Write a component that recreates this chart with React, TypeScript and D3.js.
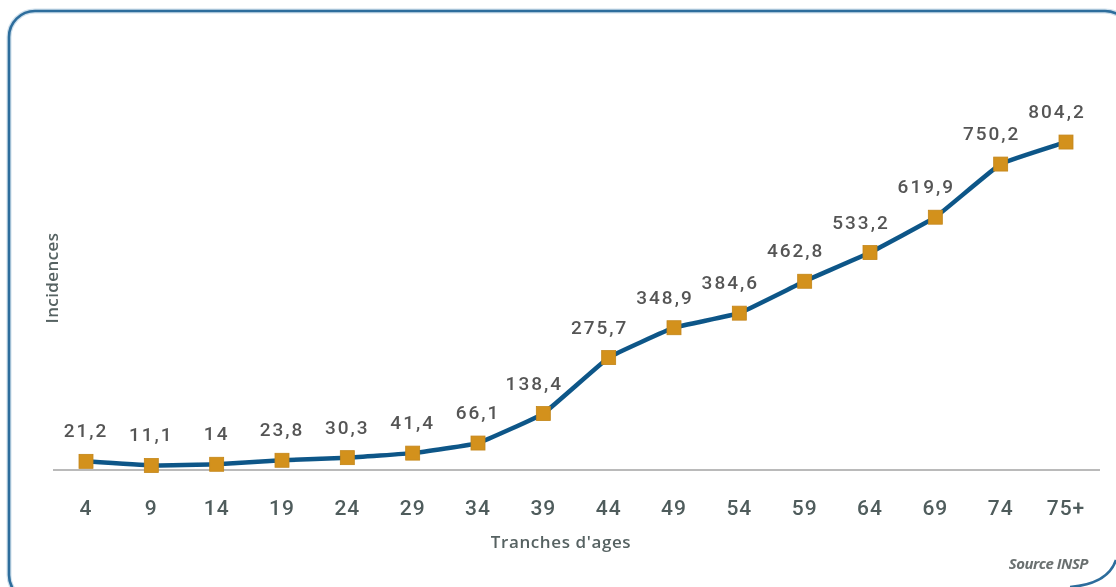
import React from "react";
import * as d3 from "d3";

// Age brackets and incidence per bracket
const ageBrackets: string[] = ["4", "9", "14", "19", "24", "29", "34", "39", "44", "49", "54", "59", "64", "69", "74", "75+"];
const incidences: number[] = [21.2, 11.1, 14, 23.8, 30.3, 41.4, 66.1, 138.4, 275.7, 348.9, 384.6, 462.8, 533.2, 619.9, 750.2, 804.2];
const valueLabels: string[] = ["21,2", "11,1", "14", "23,8", "30,3", "41,4", "66,1", "138,4", "275,7", "348,9", "384,6", "462,8", "533,2", "619,9", "750,2", "804,2"];

const W = 1116;
const H = 587;
const DIN = "Roboto, 'DejaVu Sans', sans-serif";

export default function App() {
  const x = d3
    .scalePoint<string>()
    .domain(ageBrackets)
    .range([86, 1066]);
  const y = d3.scaleLinear().domain([0, 1000]).range([470, 62.2]);

  const pts: [number, number][] = incidences.map((v, i) => [x(ageBrackets[i]) as number, y(v)]);
  const line = d3.line<[number, number]>().curve(d3.curveCardinal.tension(0.75))(pts) || "";

  const marker = 14;

  return (
    <svg
      width={W}
      height={H}
      viewBox={`0 0 ${W} ${H}`}
      style={{ position: "absolute", left: 0, top: 0, background: "#fff" }}
    >
      <defs>
        <filter id="soft" x="-5%" y="-5%" width="110%" height="110%">
          <feGaussianBlur stdDeviation="0.5" />
        </filter>
      </defs>

      {/* frame */}
      <rect x={9} y={11} width={1122} height={590} rx={26} ry={26} fill="none" stroke="#cfe0ec" strokeWidth={5} />
      <rect x={9} y={11} width={1122} height={590} rx={26} ry={26} fill="none" stroke="#2d6d9c" strokeWidth={2.6} />
      <path d="M 1070 587 Q 1108 584 1116 560" fill="none" stroke="#2d6d9c" strokeWidth={2.6} />

      <g filter="url(#soft)">
        {/* baseline */}
        <line x1={53} x2={1100} y1={y(0)} y2={y(0)} stroke="#a3a3a3" strokeWidth={1.6} />

        {/* x tick labels */}
        {ageBrackets.map((a) => (
          <text
            key={a}
            x={x(a)}
            y={515}
            textAnchor="middle"
            fontFamily={DIN}
            fontWeight={500}
            fontSize={21}
            letterSpacing={1}
            fill="#4f5c5c"
          >
            {a}
          </text>
        ))}

        {/* series line */}
        <path d={line} fill="none" stroke="#0d5688" strokeWidth={4.5} strokeLinejoin="round" />

        {/* markers */}
        {pts.map(([px, py], i) => (
          <rect
            key={i}
            x={px - marker / 2}
            y={py - marker / 2}
            width={marker}
            height={marker}
            fill="#d3911f"
            stroke="#c4861a"
            strokeWidth={0.8}
          />
        ))}

        {/* value labels */}
        {pts.map(([px, py], i) => (
          <text
            key={"v" + i}
            x={px - (i > 6 ? 9 : 0)}
            y={py - 24}
            textAnchor="middle"
            fontFamily={DIN}
            fontWeight={500}
            fontSize={19}
            letterSpacing={2}
            fill="#555"
          >
            {valueLabels[i]}
          </text>
        ))}

        {/* axis titles */}
        <text
          transform="translate(58,278) rotate(-90)"
          textAnchor="middle"
          fontFamily="'Open Sans', sans-serif"
          fontWeight={600}
          fontSize={17}
          letterSpacing={0.4}
          fill="#566262"
        >
          Incidences
        </text>
        <text
          x={561}
          y={548}
          textAnchor="middle"
          fontFamily="'Open Sans', sans-serif"
          fontWeight={600}
          fontSize={17}
          letterSpacing={0.6}
          fill="#566262"
        >
          Tranches d'ages
        </text>
        <text
          x={1088}
          y={569}
          textAnchor="end"
          fontFamily="'Open Sans', sans-serif"
          fontStyle="italic"
          fontWeight={700}
          fontSize={15}
          letterSpacing={-0.5}
          fill="#6a7070"
        >
          Source INSP
        </text>
      </g>
    </svg>
  );
}
